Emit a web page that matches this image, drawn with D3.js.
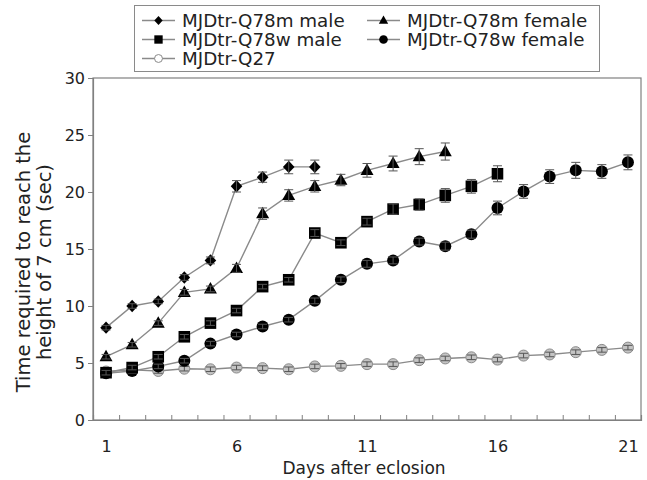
<!DOCTYPE html>
<html>
<head>
<meta charset="utf-8">
<script src="https://cdn.jsdelivr.net/npm/d3@7"></script>
<style>
  html, body { margin: 0; padding: 0; background: #fff; }
  svg { display: block; font-family: "DejaVu Sans", sans-serif; }
</style>
</head>
<body>
<svg id="chart" width="647" height="480"></svg>
<script>
// ---- data ----
const days = [1,2,3,4,5,6,7,8,9,10,11,12,13,14,15,16,17,18,19,20,21];
const xTickLabels = [1, 6, 11, 16, 21];
const yTicks = [0, 5, 10, 15, 20, 25, 30];

const q78mMale      = [8.1, 10.0, 10.4, 12.5, 14.0, 20.5, 21.3, 22.2, 22.2];
const q78mMaleErr   = [0.2, 0.2, 0.2, 0.25, 0.3, 0.5, 0.45, 0.6, 0.6];

const q78mFemale    = [5.55, 6.6, 8.5, 11.2, 11.5, 13.3, 18.1, 19.7, 20.5, 21.05, 21.9, 22.5, 23.1, 23.55];
const q78mFemaleErr = [0.2, 0.2, 0.2, 0.25, 0.25, 0.35, 0.5, 0.5, 0.5, 0.5, 0.6, 0.65, 0.7, 0.75];

const q78wMale      = [4.15, 4.6, 5.55, 7.3, 8.5, 9.6, 11.7, 12.3, 16.4, 15.55, 17.4, 18.5, 18.9, 19.7, 20.5, 21.6];
const q78wMaleErr   = [0.2, 0.2, 0.2, 0.2, 0.2, 0.2, 0.2, 0.2, 0.3, 0.25, 0.3, 0.45, 0.5, 0.6, 0.6, 0.7];

const q78wFemale    = [4.1, 4.3, 4.7, 5.2, 6.7, 7.5, 8.2, 8.8, 10.45, 12.3, 13.7, 14.0, 15.65, 15.25, 16.3, 18.6, 20.05, 21.35, 21.9, 21.8, 22.6];
const q78wFemaleErr = [0.2, 0.2, 0.2, 0.2, 0.2, 0.2, 0.2, 0.2, 0.25, 0.25, 0.3, 0.3, 0.3, 0.35, 0.35, 0.6, 0.6, 0.6, 0.7, 0.6, 0.65];

const q27           = [4.25, 4.4, 4.3, 4.5, 4.45, 4.6, 4.55, 4.45, 4.7, 4.75, 4.9, 4.9, 5.25, 5.4, 5.5, 5.3, 5.65, 5.75, 5.95, 6.15, 6.35];
const q27Err        = [0.2, 0.2, 0.2, 0.2, 0.2, 0.2, 0.2, 0.2, 0.2, 0.2, 0.2, 0.2, 0.2, 0.2, 0.2, 0.2, 0.2, 0.2, 0.2, 0.2, 0.2];

const seriesNames = ["MJDtr-Q78m male", "MJDtr-Q78m female", "MJDtr-Q78w male", "MJDtr-Q78w female", "MJDtr-Q27"];

// ---- layout ----
const L = 93, R = 641, T = 78, B = 420;
const svg = d3.select("#chart");
const textColor = "#222";
const lineColor = "#8a8a8a";
const frameColor = "#808080";

const x = d3.scaleLinear().domain([0.5, 21.5]).range([L, R]);
const y = d3.scaleLinear().domain([0, 30]).range([B, T]);

// frame
svg.append("rect").attr("x", L).attr("y", T).attr("width", R - L).attr("height", B - T)
  .attr("fill", "none").attr("stroke", frameColor).attr("stroke-width", 1.2);

// y axis
const yAxis = svg.append("g").attr("transform", `translate(${L},0)`)
  .call(d3.axisLeft(y).tickValues(yTicks).tickSize(5).tickPadding(3).tickFormat(d3.format("d")));
yAxis.select(".domain").attr("stroke", frameColor).attr("stroke-width", 1.2);
yAxis.selectAll(".tick line").attr("stroke", frameColor);
yAxis.selectAll("text").attr("font-size", 16).attr("fill", textColor).attr("font-family", "DejaVu Sans");

// x axis: tick marks at category boundaries (inward)
const boundaries = days.slice(0, -1).map(d => d + 0.5);
const xTicksG = svg.append("g").attr("transform", `translate(0,${B})`)
  .call(d3.axisBottom(x).tickValues(boundaries).tickSize(-5).tickFormat(""));
xTicksG.select(".domain").attr("stroke", frameColor).attr("stroke-width", 1.2);
xTicksG.selectAll(".tick line").attr("stroke", frameColor);

// x axis labels
const xLab = svg.append("g").attr("transform", `translate(0,${B})`)
  .call(d3.axisBottom(x).tickValues(xTickLabels).tickSize(0).tickPadding(21).tickFormat(d3.format("d")));
xLab.select(".domain").remove();
xLab.selectAll("text").attr("font-size", 16).attr("fill", textColor).attr("font-family", "DejaVu Sans");

// axis titles
svg.append("text").attr("x", (L + R) / 2 - 3).attr("y", 474).attr("text-anchor", "middle")
  .attr("font-size", 17).attr("fill", textColor).text("Days after eclosion");
const yt = svg.append("text").attr("transform", `translate(0,262) rotate(-90)`)
  .attr("text-anchor", "middle").attr("font-size", 19.5).attr("fill", textColor);
yt.append("tspan").attr("x", 0).attr("y", 30).text("Time required to reach the");
yt.append("tspan").attr("x", 0).attr("y", 51).text("height of 7 cm (sec)");

// ---- symbols ----
function drawMarker(g, type, cx, cy, scale) {
  const s = scale || 1;
  if (type === "diamond") {
    const w = 5.8 * s, h = 6.2 * s;
    g.append("path").attr("d", `M${cx},${cy - h}L${cx + w},${cy}L${cx},${cy + h}L${cx - w},${cy}Z`).attr("fill", "#000");
  } else if (type === "triangle") {
    const w = 6.5 * s, h = 11.5 * s;
    g.append("path").attr("d", `M${cx},${cy - h * 0.6}L${cx + w},${cy + h * 0.4}L${cx - w},${cy + h * 0.4}Z`).attr("fill", "#000");
  } else if (type === "square") {
    const a = 5.8 * s;
    g.append("rect").attr("x", cx - a).attr("y", cy - a).attr("width", 2 * a).attr("height", 2 * a).attr("fill", "#000");
  } else if (type === "circle") {
    g.append("circle").attr("cx", cx).attr("cy", cy).attr("r", 6 * s).attr("fill", "#000");
  } else if (type === "open") {
    g.append("circle").attr("cx", cx).attr("cy", cy).attr("r", 5.5 * s)
      .attr("fill", s < 1 ? "#fff" : "#c4c4c4").attr("stroke", "#8a8a8a").attr("stroke-width", 1);
  }
}

const series = [
  { vals: q27, err: q27Err, type: "open" },
  { vals: q78wFemale, err: q78wFemaleErr, type: "circle" },
  { vals: q78wMale, err: q78wMaleErr, type: "square" },
  { vals: q78mFemale, err: q78mFemaleErr, type: "triangle" },
  { vals: q78mMale, err: q78mMaleErr, type: "diamond" }
];

const line = d3.line().x((d, i) => x(days[i])).y(d => y(d));

series.forEach(s => {
  const g = svg.append("g");
  g.append("path").attr("d", line(s.vals)).attr("fill", "none")
    .attr("stroke", lineColor).attr("stroke-width", 1.4);
  s.vals.forEach((v, i) => {
    const cx = x(days[i]);
    drawMarker(g, s.type, cx, y(v), 1);
  });
  // error bars
  s.vals.forEach((v, i) => {
    const cx = x(days[i]);
    const e = s.err[i];
    const y1 = y(v + e), y2 = y(v - e);
    const eg = g.append("g").attr("stroke", "#555").attr("stroke-width", 1);
    eg.append("line").attr("x1", cx).attr("x2", cx).attr("y1", y1).attr("y2", y2);
    eg.append("line").attr("x1", cx - 4.5).attr("x2", cx + 4.5).attr("y1", y1).attr("y2", y1);
    eg.append("line").attr("x1", cx - 4.5).attr("x2", cx + 4.5).attr("y1", y2).attr("y2", y2);
  });
});

// ---- legend ----
svg.append("rect").attr("x", 134.5).attr("y", 5.5).attr("width", 465).attr("height", 66)
  .attr("fill", "#fff").attr("stroke", "#8a8a8a").attr("stroke-width", 1);

const legendItems = [
  { name: seriesNames[0], type: "diamond", col: 0, row: 0 },
  { name: seriesNames[1], type: "triangle", col: 1, row: 0 },
  { name: seriesNames[2], type: "square", col: 0, row: 1 },
  { name: seriesNames[3], type: "circle", col: 1, row: 1 },
  { name: seriesNames[4], type: "open", col: 0, row: 2 }
];
const colX = [142, 367];
const rowY = [27, 46, 65];
legendItems.forEach(it => {
  const lx = colX[it.col], by = rowY[it.row], cy = by - 6.5;
  const g = svg.append("g");
  g.append("line").attr("x1", lx).attr("x2", lx + 33).attr("y1", cy).attr("y2", cy)
    .attr("stroke", lineColor).attr("stroke-width", 1.4);
  drawMarker(g, it.type, lx + 16.5, cy, 0.72);
  g.append("text").attr("x", lx + 40).attr("y", by).attr("font-size", 18.3)
    .attr("fill", textColor).text(it.name);
});
</script>
</body>
</html>
